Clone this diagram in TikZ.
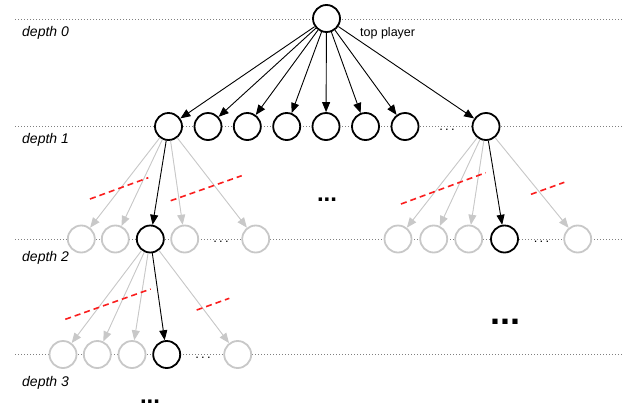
\documentclass[tikz,border=0pt]{standalone}
\usepackage{fontspec}
\setmainfont{Liberation Sans}
\usepackage{tikz}
\usetikzlibrary{arrows.meta}
\definecolor{prunedgray}{RGB}{200,200,200}
\definecolor{cutred}{RGB}{250,30,30}
\tikzstyle{state}=[circle,draw=black,line width=1.8pt,fill=white,minimum size=27pt,inner sep=0pt]
\tikzstyle{pruned}=[state,draw=prunedgray]
\tikzstyle{play}=[-{Triangle[length=10pt,width=8pt]},line width=0.9pt,draw=black]
\tikzstyle{skip}=[play,draw=prunedgray,fill=prunedgray]
\tikzstyle{cutline}=[draw=cutred,line width=1.6pt,dash pattern=on 6pt off 4pt]
\tikzstyle{depthline}=[draw=gray,line width=0.9pt,dash pattern=on 1pt off 2pt]
\tikzstyle{depthlabel}=[anchor=west,inner sep=0pt,font=\fontsize{14}{16}\selectfont\itshape]
\tikzstyle{fewdots}=[font=\fontsize{13}{15}\selectfont]
\tikzstyle{moredots}=[font=\fontsize{24}{26}\selectfont\bfseries]

\begin{document}
\begin{tikzpicture}[x=1pt,y=-1pt]
  \useasboundingbox (0,0) rectangle (623,410);
  \foreach \d/\y/\ly in {0/19/33,1/126.5/140,2/239/258,3/354.5/383} {
    \draw[depthline] (15,\y) -- (623,\y);
    \node[depthlabel] (depth\d) at (22,\ly) {depth \d};
  }
  \node[state] (root) at (326.5,18.5) {};
  \node[anchor=west,inner sep=0pt,font=\fontsize{12.5}{14}\selectfont] (topplayer) at (360,33) {top player};
  \foreach \i/\x in {1/168.5,2/208,3/247.3,4/286.7,5/326,6/365.5,7/405,8/486} {
    \node[state] (a\i) at (\x,126.5) {};
    \draw[play] (root) -- (a\i);
  }
  \foreach \i/\x/\s/\e in {1/81.3/pruned/skip,2/115.3/pruned/skip,3/150.3/state/play,
                           4/184.7/pruned/skip,5/255.7/pruned/skip} {
    \node[\s] (b\i) at (\x,239) {};
    \draw[\e] (a1) -- (b\i);
  }
  \foreach \i/\x/\s/\e in {1/398/pruned/skip,2/433.7/pruned/skip,3/468.7/pruned/skip,
                           4/504.5/state/play,5/577.7/pruned/skip} {
    \node[\s] (c\i) at (\x,239) {};
    \draw[\e] (a8) -- (c\i);
  }
  \foreach \i/\x/\s/\e in {1/63/pruned/skip,2/97.3/pruned/skip,3/132/pruned/skip,
                           4/166.7/state/play,5/237.7/pruned/skip} {
    \node[\s] (d\i) at (\x,354.5) {};
    \draw[\e] (b3) -- (d\i);
  }
  \node[fewdots] (dots1) at (447,130) {.\kern2.2pt.\kern2.2pt.};
  \node[fewdots] (dots2a) at (221,242) {.\kern2.2pt.\kern2.2pt.};
  \node[fewdots] (dots2b) at (541.5,242) {.\kern2.2pt.\kern2.2pt.};
  \node[fewdots] (dots3) at (203,358) {.\kern2.2pt.\kern2.2pt.};
  \node[moredots] (more1) at (327,200) {...};
  \node[moredots,font=\fontsize{36}{38}\selectfont\bfseries] (more2) at (505,322) {...};
  \node[moredots] (more3) at (150,402) {...};
  \draw[cutline] (90,199) -- (148.3,177.7);
  \draw[cutline] (170.7,200.7) -- (241.7,175.7);
  \draw[cutline] (401,204) -- (485.7,172.7);
  \draw[cutline] (531,194.3) -- (564.3,182.3);
  \draw[cutline] (65.3,319.3) -- (150.7,289);
  \draw[cutline] (196.7,310) -- (229.3,298.3);
\end{tikzpicture}
\end{document}
